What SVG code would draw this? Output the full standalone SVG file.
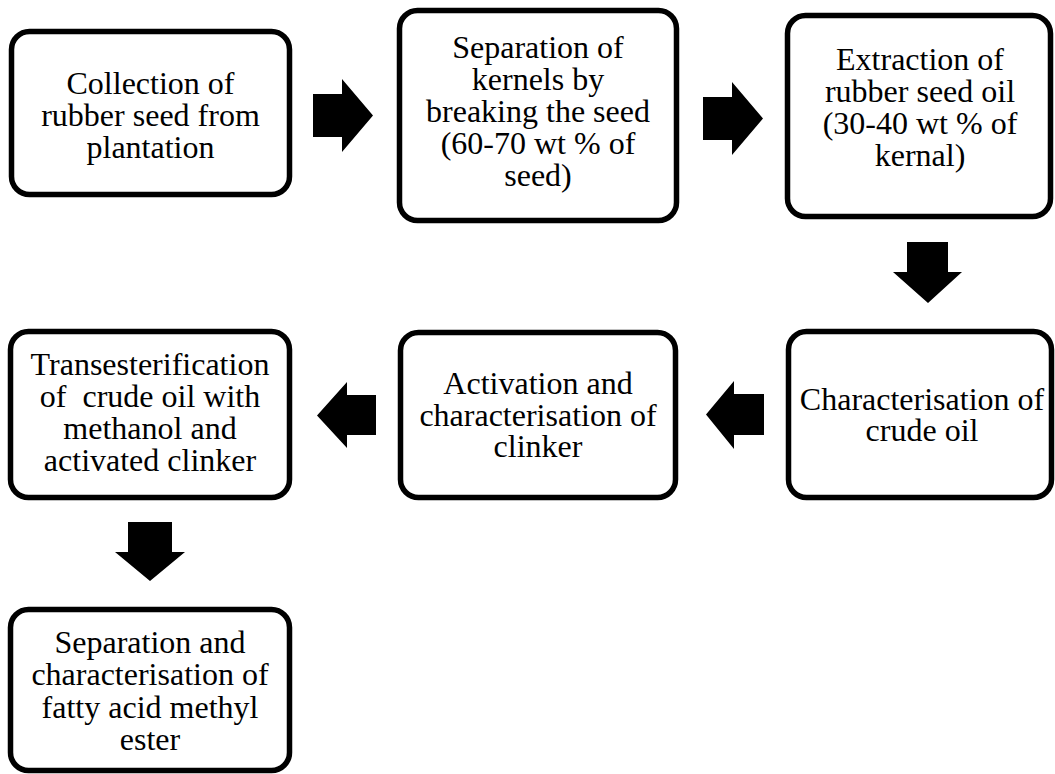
<svg xmlns="http://www.w3.org/2000/svg" width="1055" height="774" viewBox="0 0 1055 774">
<style>
.box{fill:#fff;stroke:#000;stroke-width:5.5}
.t{font-family:"Liberation Serif","Times New Roman",serif;font-size:32px;fill:#000;text-anchor:middle}
.arr{fill:#000;stroke:none}
</style>
<rect width="1055" height="774" fill="#fff"/>
<g id="connectors">
<polygon class="arr" points="313,94 342,94 342,79 373,115.5 342,152 342,137 313,137"/>
<polygon class="arr" points="703,97 732,97 732,82 763,118.5 732,155 732,140 703,140"/>
<polygon class="arr" points="907,242 948,242 948,272 962,272 928,303 893,272 907,272"/>
<polygon class="arr" points="764,394 734,394 734,381 706,414.5 734,449 734,435 764,435"/>
<polygon class="arr" points="376,395 347,395 347,382 317,415.5 347,448 347,435 376,435"/>
<polygon class="arr" points="128,522 172,522 172,552 185,552 150,581 115,552 128,552"/>
</g>
<g id="n1">
<rect class="box" x="11.5" y="31.5" width="278" height="163" rx="18"/>
<text class="t" x="150.5" y="94">Collection of</text>
<text class="t" x="150.5" y="126">rubber seed from</text>
<text class="t" x="150.5" y="158">plantation</text>
</g>
<g id="n2">
<rect class="box" x="399.5" y="10.5" width="277" height="210" rx="18"/>
<text class="t" x="538" y="58">Separation of</text>
<text class="t" x="538" y="90">kernels by</text>
<text class="t" x="538" y="122">breaking the seed</text>
<text class="t" x="538" y="154">(60-70 wt % of</text>
<text class="t" x="538" y="186">seed)</text>
</g>
<g id="n3">
<rect class="box" x="787.5" y="15.5" width="263" height="201" rx="18"/>
<text class="t" x="920" y="70">Extraction of</text>
<text class="t" x="920" y="102">rubber seed oil</text>
<text class="t" x="920" y="134">(30-40 wt % of</text>
<text class="t" x="920" y="166">kernal)</text>
</g>
<g id="n4">
<rect class="box" x="788.5" y="331.5" width="263" height="166" rx="18"/>
<text class="t" x="922" y="410">Characterisation of</text>
<text class="t" x="922" y="441">crude oil</text>
</g>
<g id="n5">
<rect class="box" x="400.5" y="332.5" width="275" height="165" rx="18"/>
<text class="t" x="538" y="394">Activation and</text>
<text class="t" x="538" y="426">characterisation of</text>
<text class="t" x="538" y="457">clinker</text>
</g>
<g id="n6">
<rect class="box" x="10.5" y="331.5" width="279" height="166" rx="18"/>
<text class="t" x="150" y="375">Transesterification</text>
<text class="t" x="150" y="407" xml:space="preserve" style="white-space:pre">of  crude oil with</text>
<text class="t" x="150" y="439">methanol and</text>
<text class="t" x="150" y="471">activated clinker</text>
</g>
<g id="n7">
<rect class="box" x="10.5" y="609.5" width="279" height="161" rx="18"/>
<text class="t" x="150" y="653">Separation and</text>
<text class="t" x="150" y="685">characterisation of</text>
<text class="t" x="150" y="718">fatty acid methyl</text>
<text class="t" x="150" y="750">ester</text>
</g>
</svg>
